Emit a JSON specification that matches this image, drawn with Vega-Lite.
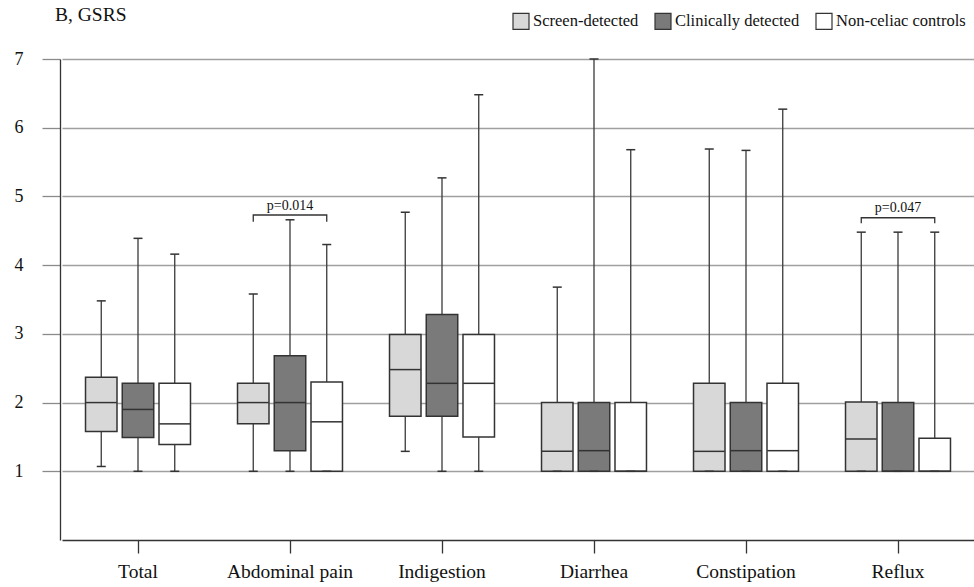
{
  "$schema": "https://vega.github.io/schema/vega-lite/v6.json",
  "width": 912,
  "height": 481,
  "autosize": {"type": "none"},
  "padding": {"left": 60, "top": 59, "right": 2, "bottom": 47},
  "background": "white",
  "config": {
    "view": {"stroke": null},
    "font": "Liberation Serif",
    "axis": {"labelFont": "Liberation Serif", "labelColor": "#111", "title": null},
    "legend": {"labelFont": "Liberation Serif"}
  },
  "title": {
    "text": "B, GSRS",
    "anchor": "start",
    "frame": "group",
    "font": "Liberation Serif",
    "fontSize": 19.5,
    "fontWeight": "normal",
    "color": "#111",
    "dx": -5,
    "offset": 14,
    "dy": 27
  },
  "datasets": {
    "boxes": [
      {"cat": "Total", "group": "Screen-detected", "min": 1.07, "q1": 1.58, "med": 2.0, "q3": 2.37, "max": 3.48},
      {"cat": "Total", "group": "Clinically detected", "min": 1.0, "q1": 1.49, "med": 1.9, "q3": 2.28, "max": 4.39},
      {"cat": "Total", "group": "Non-celiac controls", "min": 1.0, "q1": 1.39, "med": 1.69, "q3": 2.28, "max": 4.16},
      {"cat": "Abdominal pain", "group": "Screen-detected", "min": 1.0, "q1": 1.69, "med": 2.0, "q3": 2.28, "max": 3.58},
      {"cat": "Abdominal pain", "group": "Clinically detected", "min": 1.0, "q1": 1.3, "med": 2.0, "q3": 2.68, "max": 4.66},
      {"cat": "Abdominal pain", "group": "Non-celiac controls", "min": 1.0, "q1": 1.0, "med": 1.72, "q3": 2.3, "max": 4.3},
      {"cat": "Indigestion", "group": "Screen-detected", "min": 1.29, "q1": 1.8, "med": 2.48, "q3": 2.99, "max": 4.77},
      {"cat": "Indigestion", "group": "Clinically detected", "min": 1.0, "q1": 1.8, "med": 2.28, "q3": 3.28, "max": 5.27},
      {"cat": "Indigestion", "group": "Non-celiac controls", "min": 1.0, "q1": 1.5, "med": 2.28, "q3": 2.99, "max": 6.48},
      {"cat": "Diarrhea", "group": "Screen-detected", "min": 1.0, "q1": 1.0, "med": 1.29, "q3": 2.0, "max": 3.68},
      {"cat": "Diarrhea", "group": "Clinically detected", "min": 1.0, "q1": 1.0, "med": 1.3, "q3": 2.0, "max": 7.0},
      {"cat": "Diarrhea", "group": "Non-celiac controls", "min": 1.0, "q1": 1.0, "med": 1.0, "q3": 2.0, "max": 5.68},
      {"cat": "Constipation", "group": "Screen-detected", "min": 1.0, "q1": 1.0, "med": 1.29, "q3": 2.28, "max": 5.69},
      {"cat": "Constipation", "group": "Clinically detected", "min": 1.0, "q1": 1.0, "med": 1.3, "q3": 2.0, "max": 5.67},
      {"cat": "Constipation", "group": "Non-celiac controls", "min": 1.0, "q1": 1.0, "med": 1.3, "q3": 2.28, "max": 6.27},
      {"cat": "Reflux", "group": "Screen-detected", "min": 1.0, "q1": 1.0, "med": 1.47, "q3": 2.01, "max": 4.48},
      {"cat": "Reflux", "group": "Clinically detected", "min": 1.0, "q1": 1.0, "med": 1.0, "q3": 2.0, "max": 4.48},
      {"cat": "Reflux", "group": "Non-celiac controls", "min": 1.0, "q1": 1.0, "med": 1.0, "q3": 1.48, "max": 4.48}
    ],
    "brackets": [
      {"cat": "Abdominal pain", "group": "Screen-detected", "v": 4.63, "ord": 1},
      {"cat": "Abdominal pain", "group": "Screen-detected", "v": 4.73, "ord": 2},
      {"cat": "Abdominal pain", "group": "Non-celiac controls", "v": 4.73, "ord": 3},
      {"cat": "Abdominal pain", "group": "Non-celiac controls", "v": 4.63, "ord": 4},
      {"cat": "Reflux", "group": "Screen-detected", "v": 4.61, "ord": 1},
      {"cat": "Reflux", "group": "Screen-detected", "v": 4.69, "ord": 2},
      {"cat": "Reflux", "group": "Non-celiac controls", "v": 4.69, "ord": 3},
      {"cat": "Reflux", "group": "Non-celiac controls", "v": 4.61, "ord": 4}
    ],
    "pvals": [
      {"cat": "Abdominal pain", "v": 4.86, "label": "p=0.014"},
      {"cat": "Reflux", "v": 4.83, "label": "p=0.047"}
    ]
  },
  "encoding": {
    "x": {
      "field": "cat",
      "type": "nominal",
      "sort": ["Total", "Abdominal pain", "Indigestion", "Diarrhea", "Constipation", "Reflux"],
      "scale": {"range": [2, 914], "paddingInner": 0, "paddingOuter": 0},
      "axis": {
        "labelAngle": 0,
        "labelFontSize": 19.5,
        "labelPadding": 9,
        "tickSize": 13,
        "tickColor": "#333",
        "tickWidth": 1.3,
        "domainColor": "#333",
        "domainWidth": 1.3,
        "grid": false
      }
    }
  },
  "layer": [
    {
      "data": {"name": "boxes"},
      "mark": {"type": "rule", "color": "#3a3a3a", "strokeWidth": 1.3},
      "encoding": {
        "xOffset": {"field": "group", "type": "nominal", "scale": {"domain": ["Screen-detected", "Clinically detected", "Non-celiac controls"], "paddingInner": 0.143, "paddingOuter": 0.64}},
        "y": {
          "field": "min",
          "type": "quantitative",
          "scale": {"domain": [0, 7], "nice": false, "zero": false},
          "axis": {
            "values": [1, 2, 3, 4, 5, 6, 7],
            "format": "d",
            "labelFontSize": 18,
            "labelPadding": 19,
            "tickSize": 18,
            "tickColor": "#8a8a8a",
            "tickWidth": 1.3,
            "domainColor": "#333",
            "domainWidth": 1.3,
            "grid": true,
            "gridColor": "#a0a0a0",
            "gridWidth": 1.3
          }
        },
        "y2": {"field": "max"}
      }
    },
    {
      "data": {"name": "boxes"},
      "mark": {"type": "bar", "stroke": "#333", "strokeWidth": 1.5},
      "encoding": {
        "xOffset": {"field": "group", "type": "nominal"},
        "y": {"field": "q1", "type": "quantitative"},
        "y2": {"field": "q3"},
        "fill": {
          "field": "group",
          "type": "nominal",
          "scale": {"domain": ["Screen-detected", "Clinically detected", "Non-celiac controls"], "range": ["#d8d8d8", "#7a7a7a", "#ffffff"]},
          "legend": {
            "title": null,
            "orient": "none",
            "direction": "horizontal",
            "legendX": 452,
            "legendY": -47,
            "padding": 0,
            "symbolType": "square",
            "symbolSize": 256,
            "symbolStrokeColor": "#333",
            "symbolStrokeWidth": 1.2,
            "symbolOpacity": 1,
            "labelFontSize": 16.5,
            "labelColor": "#111",
            "labelOffset": 3,
            "columnPadding": 13
          }
        }
      }
    },
    {
      "data": {"name": "boxes"},
      "mark": {"type": "tick", "color": "#333", "thickness": 1.5, "size": 31, "opacity": 1},
      "encoding": {
        "xOffset": {"field": "group", "type": "nominal"},
        "y": {"field": "med", "type": "quantitative"}
      }
    },
    {
      "data": {"name": "boxes"},
      "mark": {"type": "tick", "color": "#333", "thickness": 1.5, "size": 9, "opacity": 1},
      "encoding": {
        "xOffset": {"field": "group", "type": "nominal"},
        "y": {"field": "max", "type": "quantitative"}
      }
    },
    {
      "data": {"name": "boxes"},
      "mark": {"type": "tick", "color": "#333", "thickness": 1.5, "size": 9, "opacity": 1},
      "encoding": {
        "xOffset": {"field": "group", "type": "nominal"},
        "y": {"field": "min", "type": "quantitative"}
      }
    },
    {
      "data": {"name": "brackets"},
      "mark": {"type": "line", "color": "#333", "strokeWidth": 1.3},
      "encoding": {
        "xOffset": {"field": "group", "type": "nominal"},
        "y": {"field": "v", "type": "quantitative"},
        "detail": {"field": "cat"},
        "order": {"field": "ord", "type": "quantitative"}
      }
    },
    {
      "data": {"name": "pvals"},
      "mark": {"type": "text", "fontSize": 14, "font": "Liberation Serif", "baseline": "middle", "color": "#111"},
      "encoding": {
        "y": {"field": "v", "type": "quantitative"},
        "text": {"field": "label"}
      }
    }
  ]
}
